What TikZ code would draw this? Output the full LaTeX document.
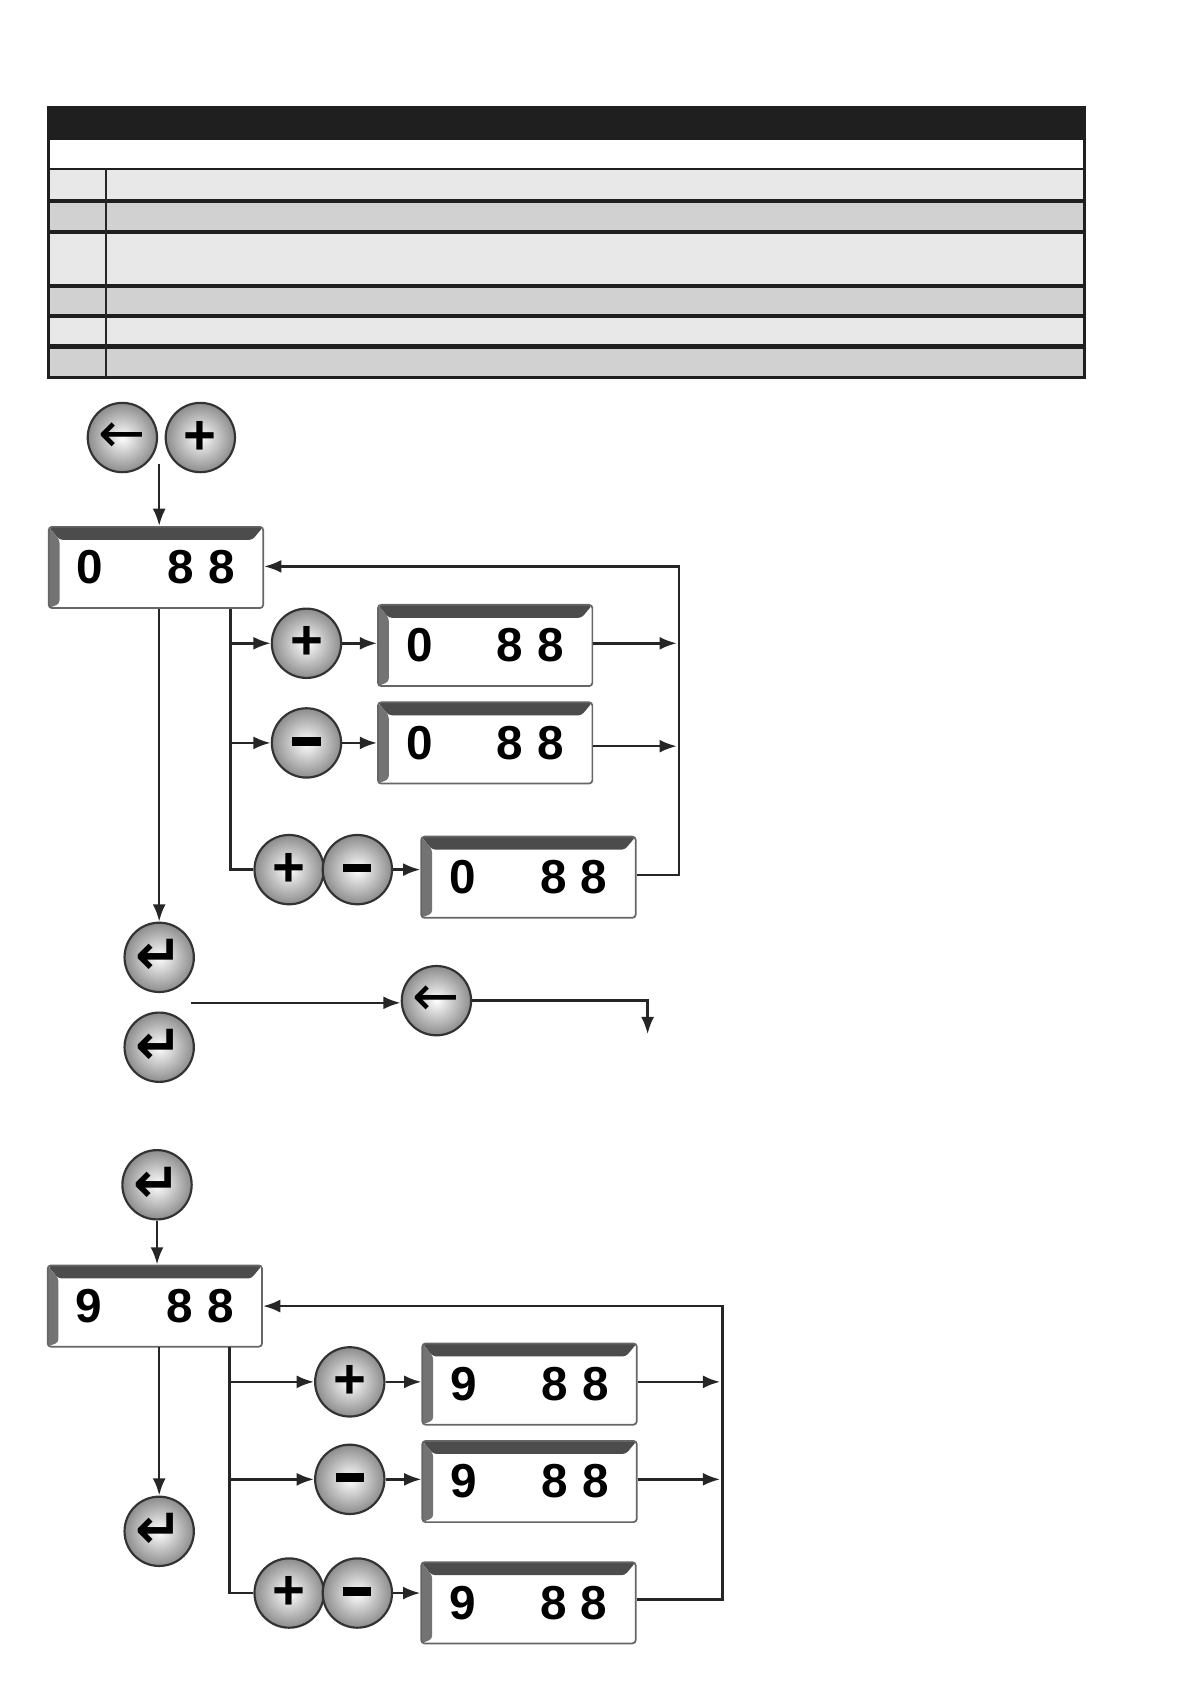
\documentclass[tikz,border=0pt]{standalone}
\usepackage{fontspec}
\setmainfont{Liberation Sans}
\newfontfamily\dv{DejaVu Sans}
\usetikzlibrary{arrows.meta}
\newcommand\mns{\rule[1.5pt]{13pt}{4pt}}
\newcommand\dg[1]{\makebox[73pt][l]{#1\hfill8\hspace{0.3em}8}}
\begin{document}
\begin{tikzpicture}[x=0.5pt,y=-0.5pt,
  conn/.style={line width=1.2pt,draw=black!85},
  arr/.style={conn,-{Latex[length=8pt,width=6pt]}},
  btn/.style={circle,minimum size=32pt,inner sep=0pt,draw=black!80,line width=1pt,
    inner color=white,outer color=black!45,font=\bfseries\fontsize{26}{26}\selectfont},
  disp/.style={draw=black!60,line width=0.8pt,rounded corners=1.5pt,minimum width=99pt,minimum height=37.5pt,inner sep=0pt,
    font=\bfseries\fontsize{22}{22}\selectfont,fill=white,anchor=center,
    path picture={
      \fill[black!70] (path picture bounding box.north west) -- (path picture bounding box.north east)
        -- ([xshift=-5pt,yshift=-6pt]path picture bounding box.north east) -- ([xshift=5pt,yshift=-6pt]path picture bounding box.north west) -- cycle;
      \fill[black!55] (path picture bounding box.north west) -- ([xshift=5pt,yshift=-6pt]path picture bounding box.north west)
        -- ([xshift=5pt,yshift=2pt]path picture bounding box.south west) -- (path picture bounding box.south west) -- cycle;
    }}]
\useasboundingbox (0,0) rectangle (1100,1555);
% table
\fill[black!88] (43,98) rectangle (1003,350);
\fill[white] (46,129) rectangle (1000,155);
\foreach \a/\b/\c in {157/184/black!9,187/212/black!18,216/262/black!9,266/290/black!18,294/318/black!9,322/347/black!18}
  \fill[\c] (46,\a) rectangle (1000,\b);
\draw[black!85,line width=1pt] (98,156) -- (98,348);
% ---- part 1
\node[btn] (bk1) at (113,404) {\dv\mdseries←};
\node[btn] (pl1) at (185,404) {+};
\coordinate (t1) at (147,428);
\node[disp] (d1) at (144,524) {\dg{0}};
\draw[arr] (t1) -- (d1.north -| t1);
\node[btn] (pA) at (283,594) {+};
\node[disp] (dA) at (448,596) {\dg{0}};
\node[btn] (mA) at (283,686) {\mns};
\node[disp] (dB) at (448,686) {\dg{0}};
\node[btn] (pC) at (267,803) {+};
\node[btn] (mC) at (330,803) {\mns};
\node[disp] (dC) at (488,810) {\dg{0}};
\coordinate (r1) at (627,523);
\coordinate (b1) at (213,562);
\draw[conn] (b1) -- (213,803) -- (pC.west);
\draw[arr] (213,594) -- (pA.west);
\draw[arr] (213,686) -- (mA.west);
\draw[arr] (pA.east) -- (dA.west |- pA.east);
\draw[arr] (mA.east) -- (dB.west |- mA.east);
\draw[arr] (mC.east) -- (dC.west |- mC.east);
\draw[arr] (dA.east |- 0,594) -- (625,594);
\draw[arr] (dB.east |- 0,689) -- (625,689);
\draw[arr] (dC.east |- 0,808) -- (627,808) -- (r1) -- (d1.east |- r1);
\node[btn] (e1) at (147,884) {\dv↵};
\node[btn] (e2) at (147,967) {\dv↵};
\draw[arr] (147,562) -- (e1.north);
\node[btn] (bk2) at (403,924) {\dv\mdseries←};
\coordinate (s2) at (176,926);
\draw[arr] (s2) -- (s2 -| bk2.west);
\coordinate (q2) at (598,955);
\draw[arr] (bk2.east) -- (598,924) -- (q2);
% ---- part 2
\node[btn] (e3) at (145,1094) {\dv↵};
\node[disp] (d2) at (143,1206) {\dg{9}};
\draw[arr] (e3.south) -- (d2.north -| e3.south);
\node[btn] (pD) at (323,1276) {+};
\node[disp] (dD) at (489,1278) {\dg{9}};
\node[btn] (mD) at (323,1366) {\mns};
\node[disp] (dE) at (489,1368) {\dg{9}};
\node[btn] (pF) at (267,1471) {+};
\node[btn] (mF) at (330,1471) {\mns};
\node[disp] (dF) at (488,1480) {\dg{9}};
\draw[conn] (212,1244) -- (212,1471) -- (pF.west);
\draw[arr] (212,1276) -- (pD.west);
\draw[arr] (212,1366) -- (mD.west);
\draw[arr] (pD.east) -- (dD.west |- pD.east);
\draw[arr] (mD.east) -- (dE.west |- mD.east);
\draw[arr] (mF.east) -- (dF.west |- mF.east);
\draw[arr] (dD.east |- 0,1276) -- (665,1276);
\draw[arr] (dE.east |- 0,1366) -- (665,1366);
\coordinate (r2) at (667,1206);
\draw[arr] (dF.east |- 0,1477) -- (667,1477) -- (r2) -- (d2.east |- r2);
\node[btn] (e4) at (147,1414) {\dv↵};
\draw[arr] (147,1244) -- (e4.north);
\end{tikzpicture}
\end{document}
